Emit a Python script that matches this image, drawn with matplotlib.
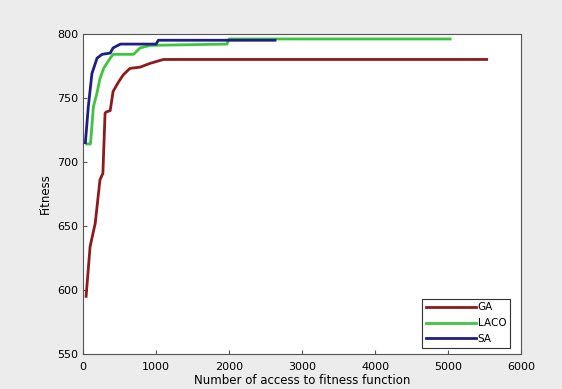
import matplotlib
matplotlib.use("Agg")
import matplotlib.pyplot as plt

# --- Data ---
ga_x = [40, 95, 165, 230, 270, 300, 315, 370, 410, 480, 550, 640, 780, 920, 1100, 5530]
ga_y = [595, 634, 652, 686, 691, 738, 739, 740, 755, 762, 768, 773, 774, 777, 780, 780]

laco_x = [50, 100, 140, 190, 230, 280, 370, 410, 690, 780, 920, 1970, 2000, 5030]
laco_y = [714, 714, 743, 754, 765, 773, 781, 784, 784, 789, 791, 792, 796, 796]

sa_x = [30, 70, 120, 190, 260, 370, 410, 510, 1000, 1030, 2630]
sa_y = [715, 743, 769, 781, 784, 785, 789, 792, 792, 795, 795]

x_ticks = [0, 1000, 2000, 3000, 4000, 5000, 6000]
y_ticks = [550, 600, 650, 700, 750, 800]

fig = plt.figure(figsize=(5.62, 3.89), dpi=100, facecolor='#ececec')
ax = fig.add_axes([0.148, 0.09, 0.779, 0.823])
ax.set_facecolor('white')

ax.plot(ga_x, ga_y, color='#8e1b1b', linewidth=2, label='GA')
ax.plot(laco_x, laco_y, color='#3ec43e', linewidth=2, label='LACO')
ax.plot(sa_x, sa_y, color='#1e1e85', linewidth=2, label='SA')

ax.set_xlim(0, 6000)
ax.set_ylim(550, 800)
ax.set_xticks(x_ticks)
ax.set_yticks(y_ticks)
ax.tick_params(labelsize=8, direction='in', length=3, color='#555555')
ax.tick_params(axis='x', pad=6)
for s in ax.spines.values():
    s.set_color('#555555')

ax.set_xlabel('Number of access to fitness function', fontsize=8.5, labelpad=1)
ax.set_ylabel('Fitness', fontsize=8.5)

leg = ax.legend(loc='lower right', bbox_to_anchor=(0.975, 0.02), fontsize=7.5,
                fancybox=False, framealpha=1, edgecolor='#333333',
                handlelength=4.8, handletextpad=0.2, borderpad=0.35,
                labelspacing=0.55, borderaxespad=0)
leg.get_frame().set_linewidth(0.8)

fig.savefig('out.png', dpi=100, facecolor=fig.get_facecolor())
